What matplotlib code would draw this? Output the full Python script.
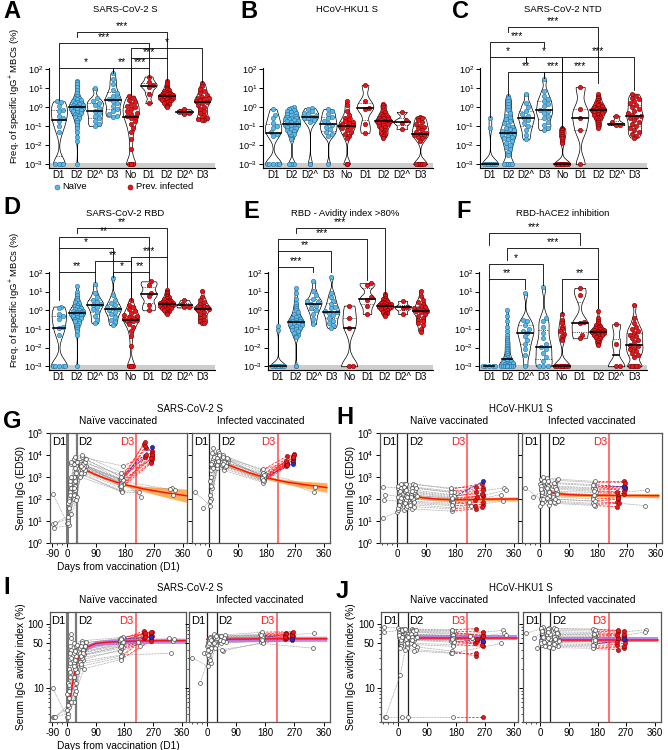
import numpy as np
import matplotlib
matplotlib.use('Agg')
import matplotlib.pyplot as plt
from matplotlib.transforms import Affine2D, blended_transform_factory
from matplotlib.ticker import NullFormatter

plt.rcParams['font.family'] = ['Liberation Sans', 'DejaVu Sans']
plt.rcParams['mathtext.fontset'] = 'custom'
plt.rcParams['mathtext.rm'] = 'Liberation Sans'
plt.rcParams['mathtext.it'] = 'Liberation Sans:italic'
plt.rcParams['mathtext.bf'] = 'Liberation Sans:bold'
plt.rcParams['xtick.labelsize'] = 7
plt.rcParams['ytick.labelsize'] = 7

# ---------------- data: memory B cell frequencies (log10 %) ----------------
categories = ['D1', 'D2', 'D2^', 'D3', 'No', 'D1', 'D2', 'D2^', 'D3']

mbc_S = [
    [0.3, 0.25, 0.05, -0.15, -0.2, -0.45, -0.6, -0.75, -1.0, -1.3, -3, -3, -3, -3],
    [1.35, 1.3, 1.2, 1.05, 0.9, 0.75, 0.6, 0.5, 0.45, 0.4, 0.35, 0.3, 0.25, 0.2, 0.2, 0.15, 0.1, 0.1, 0.05, 0.05,
     0.0, 0.0, -0.05, -0.05, -0.1, -0.1, -0.15, -0.2, -0.25, -0.3, -0.35, -0.4, -0.45, -0.5, -0.6, -0.7, -0.8,
     -0.95, -1.1, -1.3, -1.55, -1.8, -3],
    [1.0, 0.45, 0.3, 0.2, 0.1, -0.05, -0.2, -0.3, -0.45, -0.6, -0.75, -0.9, -1.0],
    [1.8, 1.45, 1.2, 0.9, 0.75, 0.6, 0.45, 0.4, 0.3, 0.2, 0.05, -0.1, -0.2, -0.35, -0.45, -0.5],
    [0.6, 0.45, 0.35, 0.25, 0.15, 0.05, 0.0, -0.1, -0.2, -0.3, -0.35, -0.45, -0.5, -0.6, -0.75, -0.9, -1.1, -1.3,
     -1.7, -2.2, -3, -3, -3, -3, -3],
    [1.6, 1.3, 1.15, 1.05, 0.7, 0.2],
    [1.35, 1.25, 1.15, 1.05, 1.0, 0.95, 0.9, 0.85, 0.8, 0.75, 0.72, 0.7, 0.68, 0.65, 0.62, 0.6, 0.6, 0.58, 0.55,
     0.52, 0.5, 0.5, 0.48, 0.45, 0.42, 0.4, 0.38, 0.35, 0.3, 0.25, 0.2, 0.15, 0.1, 0.05, 0.0],
    [-0.1, -0.2, -0.3, -0.35],
    [1.25, 1.1, 0.95, 0.85, 0.75, 0.65, 0.55, 0.5, 0.45, 0.4, 0.35, 0.3, 0.28, 0.2, 0.1, 0.0, -0.1, -0.2, -0.3,
     -0.4, -0.5, -0.6, -0.65, -0.7, -0.7],
]

mbc_HKU1 = [
    [-0.1, -0.4, -0.6, -0.85, -1.0, -1.1, -1.3, -1.4, -1.5, -3, -3, -3, -3, -3],
    [0.0, -0.05, -0.1, -0.15, -0.2, -0.25, -0.3, -0.35, -0.4, -0.45, -0.5, -0.55, -0.6, -0.62, -0.65, -0.7, -0.72,
     -0.75, -0.8, -0.85, -0.88, -0.9, -0.92, -0.95, -1.0, -1.05, -1.1, -1.15, -1.2, -1.25, -1.3, -1.4, -1.5, -1.6,
     -1.7, -3, -3, -3, -3, -3, -3],
    [-0.05, -0.1, -0.2, -0.3, -0.35, -0.45, -0.5, -0.55, -0.6, -0.7, -0.8, -3, -3],
    [-0.1, -0.2, -0.35, -0.5, -0.6, -0.75, -0.85, -0.95, -1.05, -1.15, -1.3, -1.4, -1.5, -3],
    [0.3, 0.1, -0.2, -0.4, -0.55, -0.65, -0.75, -0.8, -0.85, -0.9, -0.95, -1.0, -1.0, -1.05, -1.1, -1.2, -1.3,
     -1.4, -1.5, -1.6, -3, -3, -3, -3],
    [1.15, 0.3, -0.05, -0.1, -0.9, -1.35],
    [0.15, 0.1, 0.0, -0.15, -0.25, -0.35, -0.4, -0.45, -0.5, -0.55, -0.6, -0.65, -0.7, -0.72, -0.75, -0.75, -0.8,
     -0.85, -0.9, -0.95, -1.0, -1.05, -1.1, -1.2, -1.3, -1.35, -1.4, -1.5, -1.6],
    [-0.25, -0.7, -0.85, -1.15],
    [-0.5, -0.55, -0.6, -0.7, -0.8, -0.9, -1.0, -1.05, -1.1, -1.2, -1.3, -1.35, -1.4, -1.45, -1.5, -1.55, -1.6,
     -1.8, -3, -3, -3, -3, -3, -3, -3],
]

mbc_NTD = [
    [-0.6, -1.1, -3, -3, -3, -3, -3, -3, -3, -3],
    [0.6, 0.45, 0.3, 0.15, 0.0, -0.15, -0.3, -0.45, -0.55, -0.65, -0.75, -0.85, -0.95, -1.05, -1.1, -1.15, -1.2,
     -1.25, -1.3, -1.35, -1.4, -1.45, -1.5, -1.55, -1.6, -1.7, -1.8, -1.9, -2.0, -2.1, -2.2, -2.35, -2.5, -3, -3,
     -3, -3, -3, -3, -3],
    [0.7, 0.2, 0.0, -0.2, -0.35, -0.45, -0.55, -0.7, -0.85, -1.0, -1.2, -1.45, -1.7],
    [1.45, 0.85, 0.6, 0.4, 0.3, 0.15, 0.05, -0.15, -0.2, -0.3, -0.45, -0.6, -0.8, -0.95, -1.1, -1.2],
    [-1.1, -1.15, -1.2, -1.3, -1.4, -1.5, -1.6, -1.8, -1.9, -3, -3, -3, -3, -3, -3, -3, -3, -3, -3, -3, -3, -3],
    [1.05, -0.1, -0.55, -1.2, -3],
    [0.7, 0.55, 0.45, 0.35, 0.25, 0.2, 0.15, 0.1, 0.05, 0.0, -0.05, -0.1, -0.12, -0.15, -0.15, -0.18, -0.2, -0.25,
     -0.3, -0.35, -0.4, -0.45, -0.5, -0.55, -0.6, -0.7, -0.8, -0.9, -1.0, -1.1],
    [-0.45, -0.8, -0.95, -0.95],
    [0.7, 0.6, 0.5, 0.4, 0.3, 0.2, 0.1, 0.0, -0.1, -0.2, -0.3, -0.4, -0.45, -0.5, -0.6, -0.7, -0.8, -0.9, -1.0,
     -1.1, -1.2, -1.3, -1.4, -1.5, -1.6],
]

mbc_RBD = [
    [0.2, 0.1, -0.2, -0.3, -0.45, -0.9, -0.95, -1.3, -3, -3, -3, -3, -3],
    [1.3, 1.0, 0.8, 0.65, 0.55, 0.45, 0.4, 0.3, 0.25, 0.2, 0.15, 0.1, 0.05, 0.0, -0.02, -0.05, -0.08, -0.1, -0.12,
     -0.15, -0.15, -0.18, -0.2, -0.25, -0.3, -0.35, -0.4, -0.45, -0.5, -0.55, -0.6, -0.7, -0.8, -0.9, -1.0, -1.1,
     -1.3, -3],
    [1.4, 0.95, 0.7, 0.55, 0.45, 0.35, 0.3, 0.2, 0.05, -0.1, -0.3, -0.5, -0.7],
    [1.75, 0.8, 0.55, 0.4, 0.3, 0.2, 0.1, 0.05, 0.0, -0.1, -0.2, -0.35, -0.5, -0.65, -0.8],
    [0.55, 0.3, 0.15, 0.05, -0.05, -0.15, -0.25, -0.3, -0.35, -0.4, -0.45, -0.5, -0.5, -0.55, -0.6, -0.75, -0.9,
     -1.1, -1.4, -1.9, -3, -3, -3, -3, -3],
    [1.55, 1.35, 0.95, 0.75, 0.3, 0.0],
    [1.1, 1.0, 0.9, 0.8, 0.75, 0.7, 0.65, 0.6, 0.55, 0.5, 0.48, 0.45, 0.42, 0.4, 0.38, 0.36, 0.35, 0.35, 0.33, 0.3,
     0.28, 0.25, 0.22, 0.2, 0.18, 0.15, 0.12, 0.1, 0.05, 0.0, -0.05, -0.1, -0.15, -0.2],
    [0.55, 0.35, 0.2, 0.15],
    [1.05, 0.7, 0.55, 0.45, 0.35, 0.25, 0.2, 0.15, 0.1, 0.08, 0.05, 0.0, -0.1, -0.2, -0.3, -0.4, -0.5, -0.6, -0.7,
     -0.7],
]

mbc_avidity = [
    [-0.85, -1.05, -3, -3, -3, -3, -3, -3, -3, -3, -3, -3, -3, -3],
    [1.2, 0.9, 0.6, 0.4, 0.25, 0.1, 0.0, -0.1, -0.2, -0.3, -0.35, -0.4, -0.45, -0.5, -0.55, -0.6, -0.62, -0.65,
     -0.65, -0.68, -0.7, -0.75, -0.8, -0.85, -0.9, -0.95, -1.0, -1.05, -1.1, -1.2, -1.3, -1.4, -1.45, -3, -3],
    [1.55, 1.05, 0.8, 0.6, 0.5, 0.45, 0.35, 0.25, 0.1, 0.0, -0.2, -0.45, -0.75],
    [1.8, 0.95, 0.7, 0.5, 0.35, 0.2, 0.1, -0.05, -0.1, -0.15, -0.25, -0.4, -0.55, -0.7, -0.8, -0.95],
    [0.25, -0.4, -0.95, -3, -3],
    [1.45, 1.35, 0.7, 0.55, 0.25, -0.2],
    [0.85, 0.75, 0.65, 0.6, 0.55, 0.5, 0.45, 0.4, 0.38, 0.35, 0.32, 0.3, 0.28, 0.26, 0.25, 0.25, 0.22, 0.2, 0.18,
     0.15, 0.12, 0.1, 0.05, 0.0, -0.05, -0.1, -0.15, -0.2, -0.25, -0.3],
    [0.5, 0.2, 0.1, -0.2],
    [1.05, 0.75, 0.55, 0.45, 0.35, 0.25, 0.2, 0.1, 0.05, 0.0, -0.05, -0.05, -0.1, -0.2, -0.3, -0.4, -0.5, -0.6,
     -0.7, -0.8, -1.0, -1.15],
]

mbc_ace2 = [
    [-3, -3, -3, -3, -3],
    [0.0, -0.3, -0.6, -0.9, -1.1, -1.3, -1.5, -1.6, -1.7, -1.8, -1.9, -2.0, -2.1, -2.2, -2.3, -2.4, -2.5, -2.55,
     -2.6, -2.65, -2.7, -2.75, -2.8, -2.85, -2.9, -2.9, -2.95, -3, -3, -3, -3, -3, -3, -3, -3, -3, -3, -3],
    [0.95, -0.5, -0.6, -0.8, -1.0, -1.1, -1.2, -1.4, -1.6, -1.8, -2.1, -2.4, -3],
    [1.25, -0.4, -0.6, -0.9, -1.2, -1.5, -1.8, -1.95, -2.1, -2.3, -2.5, -2.7, -3, -3, -3],
    [-0.2, -0.5, -0.7, -0.9, -1.0, -1.1, -1.25, -1.4, -1.55, -1.6, -3, -3, -3, -3, -3, -3, -3, -3, -3, -3, -3, -3],
    [1.2, 0.8, -0.65, -0.7, -1.3, -1.5],
    [-0.05, -0.4, -0.55, -0.7, -0.8, -0.85, -0.9, -0.95, -1.0, -1.05, -1.08, -1.1, -1.12, -1.15, -1.15, -1.18, -1.2,
     -1.25, -1.3, -1.35, -1.4, -1.45, -1.5, -1.6, -1.7, -1.8, -1.85],
    [-0.75, -1.8, -3, -3],
    [0.3, -0.4, -0.7, -0.9, -1.0, -1.1, -1.2, -1.3, -1.4, -1.5, -1.6, -1.7, -1.85, -1.9, -2.0, -2.1, -2.2, -2.3,
     -2.4, -2.5, -3, -3, -3, -3, -3],
]

# ---------------- data: serum time courses ----------------
# columns: pre, early, D2, post-D2, 6 months, post-D3, late (no D3)
naive_days = [
    [-88, 1, 22, 45, 168, 242, None], [-84, 4, 25, 50, 170, 263, None], [-78, 7, 28, 42, 165, 240, None],
    [-72, 12, 30, 55, 172, 265, None], [None, 2, 21, 48, 167, 262, None], [None, 5, 24, 52, 169, 244, None],
    [None, 8, 27, 40, 171, 264, None], [None, 10, 29, 58, 166, 241, None], [None, 13, 23, 46, 174, 263, None],
    [None, 3, 26, 53, 168, 262, None], [None, 6, 31, 44, 170, 245, None], [None, 9, 22, 50, 173, 265, None],
    [None, 11, 28, 56, 165, 243, None], [None, 14, 25, 47, 169, 264, None], [None, 2, 30, 41, 171, None, 325],
    [None, 6, 24, 54, 167, None, 330], [None, 9, 27, 49, 172, None, 335], [None, 12, 21, 57, 166, None, 228],
    [None, 4, 29, 43, 170, None, 222], [None, 7, 23, 51, 168, None, 320], [None, 10, 26, 45, 174, 262, None],
    [None, 13, 32, 60, 169, 264, None],
]
infected_days = [
    [-92, 3, 25, 45, 168, 243, None], [-41, 6, 28, 52, 171, 263, None], [-20, 9, 22, 40, 166, 265, None],
    [None, 1, 30, 48, 173, 240, None], [None, 4, 24, 55, 169, 262, None], [None, 7, 27, 42, 165, 244, None],
    [None, 10, 21, 50, 172, 264, None], [None, 13, 29, 58, 167, 241, None], [None, 2, 23, 46, 170, 263, None],
    [None, 5, 26, 53, 174, 262, None], [None, 8, 31, 44, 168, 245, None], [None, 11, 22, 57, 171, 265, None],
    [None, 14, 28, 41, 166, 243, None], [None, 3, 25, 49, 173, 264, None], [None, 6, 30, 54, 169, None, 332],
    [None, 9, 24, 47, 172, None, 328], [None, 12, 27, 43, 167, 262, None], [None, 4, 23, 51, 170, 240, None],
]
naive_blue = [21]
infected_blue = [16]

# log10 ED50, SARS-CoV-2 S
igg_S_naive = [
    [2.25, 0.9, 2.0, 3.1, 2.4, 3.9, None], [0.85, 1.1, 2.9, 3.5, 2.7, 4.0, None],
    [0.7, 0.8, 3.5, 3.6, 2.9, 4.5, None], [0.9, 1.3, 3.7, 3.8, 3.0, 4.2, None],
    [None, 1.8, 2.2, 3.3, 2.6, 3.7, None], [None, 2.1, 2.6, 3.4, 2.8, 4.3, None],
    [None, 2.4, 3.3, 3.7, 3.1, 3.8, None], [None, 2.6, 3.6, 3.5, 2.75, 4.6, None],
    [None, 3.6, 3.8, 3.9, 3.5, 4.1, None], [None, 1.0, 2.4, 3.2, 2.5, 3.65, None],
    [None, 2.0, 3.4, 3.6, 2.9, 4.0, None], [None, 2.3, 3.0, 3.4, 2.7, 3.9, None],
    [None, 2.7, 3.5, 3.3, 2.6, 4.4, None], [None, 3.0, 3.9, 4.0, 3.2, 4.0, None],
    [None, 1.2, 2.1, 3.0, 2.35, None, 2.5], [None, 1.9, 2.8, 3.5, 2.7, None, 2.2],
    [None, 2.2, 3.2, 3.6, 2.8, None, 2.4], [None, 2.5, 3.6, 3.7, 2.9, None, 2.1],
    [None, 0.9, 1.95, 3.2, 2.3, None, 2.3], [None, 1.6, 2.5, 3.4, 2.6, None, 2.45],
    [None, 2.8, 3.4, 3.5, 2.85, 3.85, None], [None, 3.7, 3.7, 3.8, 3.0, 4.35, None],
]
igg_S_infected = [
    [2.3, 1.7, 3.5, 3.4, 2.8, 3.6, None], [1.6, 2.0, 3.8, 3.6, 2.95, 3.9, None],
    [None, 2.5, 3.9, 3.7, 3.1, 4.05, None], [None, 1.9, 3.6, 3.5, 2.9, 3.5, None],
    [None, 3.0, 4.0, 3.8, 3.05, 3.75, None], [None, 3.5, 4.2, 4.0, 3.3, 3.95, None],
    [None, 3.8, 3.7, 3.6, 2.85, 3.8, None], [None, 4.0, 3.9, 3.75, 3.0, 3.6, None],
    [None, 2.2, 3.4, 3.3, 2.75, 3.7, None], [None, 3.3, 3.8, 3.65, 3.15, 3.85, None],
    [None, 3.7, 4.1, 3.9, 3.35, 3.65, None], [None, 4.3, 3.95, 3.8, 3.0, 4.0, None],
    [None, 3.9, 3.7, 3.55, 2.9, 3.55, None], [None, 2.8, 3.6, 3.45, 2.8, 3.9, None],
    [None, 3.6, 4.0, 3.85, 3.2, None, 2.55], [None, 4.1, 3.85, 3.7, 3.1, None, 2.3],
    [None, 3.4, 3.75, 3.6, 2.95, 3.6, None], [None, 2.6, 3.55, 3.5, 2.85, 3.75, None],
]
# log10 ED50, HCoV-HKU1 S
igg_H_naive = [
    [1.15, 1.4, 1.5, 1.55, 1.45, 1.55, None], [2.55, 2.5, 2.6, 2.55, 2.35, 2.5, None],
    [1.95, 1.9, 2.0, 2.05, 1.9, 1.7, None], [2.2, 2.1, 2.2, 2.25, 2.05, 2.15, None],
    [None, 2.6, 2.7, 2.7, 2.45, 2.7, None], [None, 2.3, 2.3, 2.3, 2.1, 2.3, None],
    [None, 1.7, 1.75, 1.8, 1.7, 1.75, None], [None, 2.0, 2.1, 2.1, 1.95, 1.95, None],
    [None, 2.4, 2.45, 2.5, 2.3, 2.4, None], [None, 1.5, 1.6, 1.65, 1.55, 1.65, None],
    [None, 2.2, 2.25, 2.2, 2.0, 2.1, None], [None, 1.8, 1.85, 1.9, 1.8, 1.85, None],
    [None, 2.7, 2.7, 2.65, 2.5, 2.55, None], [None, 2.0, 2.05, 2.0, 1.9, 2.2, None],
    [None, 1.6, 1.7, 1.75, 1.6, None, 1.9], [None, 2.3, 2.35, 2.4, 2.2, None, 2.5],
    [None, 1.9, 1.95, 2.0, 1.85, None, 2.4], [None, 2.5, 2.55, 2.5, 2.3, None, 1.7],
    [None, 2.1, 2.15, 2.1, 2.0, None, 1.85], [None, 1.75, 1.8, 1.85, 1.75, None, 2.2],
    [None, 2.35, 2.4, 2.35, 2.15, 2.25, None], [None, 2.05, 2.1, 2.15, 2.05, 2.8, None],
]
igg_H_infected = [
    [2.5, 2.0, 2.05, 2.0, 1.9, 2.0, None], [2.1, 2.3, 2.35, 2.3, 2.2, 2.25, None],
    [None, 2.6, 2.65, 2.6, 2.5, 2.55, None], [None, 1.7, 1.75, 1.8, 1.7, 1.65, None],
    [None, 2.9, 2.9, 2.85, 2.75, 2.8, None], [None, 2.2, 2.25, 2.2, 2.1, 2.15, None],
    [None, 2.5, 2.55, 2.5, 2.4, 2.45, None], [None, 1.9, 1.95, 1.9, 1.8, 1.85, None],
    [None, 2.7, 2.75, 2.7, 2.6, 2.6, None], [None, 2.4, 2.4, 2.35, 2.3, 2.35, None],
    [None, 1.8, 1.85, 1.85, 1.75, 1.8, None], [None, 3.0, 2.95, 2.9, 2.8, 2.75, None],
    [None, 2.1, 2.15, 2.1, 2.0, 2.05, None], [None, 2.6, 2.6, 2.55, 2.45, 2.5, None],
    [None, 2.3, 2.3, 2.25, 2.2, None, 2.4], [None, 2.0, 2.05, 2.0, 1.9, None, 1.7],
    [None, 2.8, 2.8, 2.75, 2.65, 2.55, None], [None, 2.45, 2.5, 2.45, 2.35, 2.3, None],
]
# avidity index %, SARS-CoV-2 S
avid_S_naive = [
    [10, 3.5, 6, 22, 30, 60, None], [3.5, 4, 10, 28, 40, 65, None], [3.5, 5, 20, 35, 50, 72, None],
    [3.5, 6, 28, 40, 55, 75, None], [None, 8, 15, 30, 38, 58, None], [None, 12, 22, 33, 45, 68, None],
    [None, 20, 30, 42, 52, 70, None], [None, 45, 45, 48, 58, 78, None], [None, 70, 50, 55, 62, 74, None],
    [None, 3.5, 8, 20, 28, 55, None], [None, 7, 18, 32, 42, 62, None], [None, 15, 25, 38, 48, 66, None],
    [None, 25, 32, 44, 54, 72, None], [None, 40, 40, 50, 60, 76, None], [None, 4.5, 12, 26, 33, None, 35],
    [None, 9, 20, 34, 44, None, 55], [None, 18, 28, 40, 50, None, 58], [None, 30, 35, 45, 56, None, 45],
    [None, 5.5, 9, 24, 32, None, 52], [None, 11, 22, 36, 46, None, 60], [None, 35, 38, 46, 53, 64, None],
    [None, 60, 48, 52, 59, 62, None],
]
avid_S_infected = [
    [30, 22, 45, 50, 55, 60, None], [12, 30, 50, 55, 58, 63, None], [35, 38, 55, 58, 60, 66, None],
    [None, 45, 58, 60, 62, 68, None], [None, 52, 62, 62, 65, 70, None], [None, 58, 68, 65, 70, 74, None],
    [None, 63, 65, 63, 68, 72, None], [None, 25, 48, 52, 53, 58, None], [None, 35, 52, 56, 57, 62, None],
    [None, 48, 60, 60, 63, 67, None], [None, 55, 63, 64, 66, 69, None], [None, 60, 70, 68, 75, 76, None],
    [None, 42, 57, 57, 59, 61, None], [None, 33, 42, 38, 52, 56, None], [None, 50, 61, 61, 64, None, 72],
    [None, 28, 53, 40, 50, None, 42], [None, 56, 66, 66, 67, 58, None], [None, 40, 50, 54, 56, 64, None],
]
# avidity index %, HCoV-HKU1 S
avid_H_naive = [
    [90, 88, 85, 84, 82, 85, None], [75, 80, 78, 76, 72, 68, None], [3.5, 16, 55, 58, 55, 50, None],
    [3.5, 3.5, 3.5, None, 3.5, 3.5, None], [None, 70, 72, 70, 66, 62, None], [None, 62, 60, 61, 58, 55, None],
    [None, 55, 52, 50, 48, 45, None], [None, 48, 46, 44, 38, 32, None], [None, 85, 82, 80, 78, 75, None],
    [None, 75, 76, 74, 70, 60, None], [None, 66, 68, 65, 62, 58, None], [None, 58, 56, 57, 54, 52, None],
    [None, 45, 42, 40, 36, 36, None], [None, 78, 80, 78, 75, 65, None], [None, 72, 70, 69, 67, None, 80],
    [None, 60, 62, 60, 57, None, 72], [None, 52, 50, 48, 45, None, 68], [None, 82, 84, 82, 80, None, 60],
    [None, 68, 66, 64, 60, None, 65], [None, 42, 40, 38, 35, None, 50], [None, 57, 58, 56, 52, 48, None],
    [None, 64, 63, 62, 58, 55, None],
]
avid_H_infected = [
    [72, 85, 82, 80, 78, 75, None], [60, 75, 72, 70, 68, 65, None], [42, 65, 62, 60, 58, 56, None],
    [None, 55, 53, 52, 50, 48, None], [None, 48, 46, 45, 44, 42, None], [None, 90, 88, 86, 84, 80, None],
    [None, 70, 68, 66, 64, 62, None], [None, 60, 58, 56, 54, 52, None], [None, 50, 48, 47, 46, 45, None],
    [None, 80, 78, 76, 74, 70, None], [None, 68, 66, 64, 62, 60, None], [None, 58, 56, 55, 53, 50, None],
    [None, 45, 44, 43, 42, 40, None], [None, 88, 85, 84, 82, 78, None], [None, 72, 70, 69, 67, None, 82],
    [None, 62, 60, 58, 56, None, 75], [None, 52, 50, 49, 48, 58, None], [None, 78, 75, 73, 71, 68, None],
]

# model fits
fit_days_igg = [30, 45, 60, 90, 120, 150, 180, 240, 300, 370]
fit_S_naive = [3.55, 3.42, 3.3, 3.1, 2.93, 2.78, 2.65, 2.45, 2.3, 2.15]
band_S_naive = [0.08, 0.07, 0.06, 0.05, 0.05, 0.06, 0.07, 0.12, 0.2, 0.3]
fit_S_infected = [3.78, 3.65, 3.55, 3.38, 3.22, 3.08, 2.96, 2.78, 2.65, 2.52]
band_S_infected = [0.1, 0.08, 0.07, 0.06, 0.06, 0.06, 0.07, 0.1, 0.15, 0.22]
fit_H_naive = [2.22, 2.15, 2.1, 2.04, 2.0, 1.98, 1.97, 1.98, 2.0, 2.0]
band_H_naive = [0.12, 0.1, 0.08, 0.07, 0.06, 0.06, 0.06, 0.07, 0.08, 0.1]
fit_H_infected = [2.3, 2.27, 2.24, 2.2, 2.18, 2.17, 2.17, 2.16, 2.16, 2.15]
band_H_infected = [0.15, 0.12, 0.1, 0.08, 0.07, 0.07, 0.07, 0.07, 0.08, 0.1]

fit_days_avid = [0, 10, 20, 30, 45, 60, 90, 120, 180, 270, 370]
fit_avS_naive = [3.3, 6.5, 14, 25, 36, 43, 50, 52, 54, 55, 55]
fit_avS_infected = [58, 58, 58, 58, 58, 58, 58.5, 58.5, 59, 59, 59]
fit_avH_naive = [61, 61, 61, 61, 61, 61, 61, 61, 61, 61, 61]
fit_avH_infected = [57, 57, 57, 57, 57, 57, 57, 57, 57, 57, 57]
band_avid = [0.04, 0.04, 0.04, 0.04, 0.04, 0.04, 0.04, 0.04, 0.04, 0.04, 0.04]

D2_DAY = 30
D3_DAY = 215

# ---------------- drawing ----------------
W, H = 668, 750
fig = plt.figure(figsize=(6.68, 7.5), dpi=100)
PX = Affine2D().scale(1 / W, -1 / H).translate(0, 1) + fig.transFigure

BLUE, BLUE_E = '#5bb8e8', '#2c6f96'
RED, RED_E = '#e8161c', '#7a0000'


def px_axes(x0, y0, x1, y1):
    return fig.add_axes([x0 / W, 1 - y1 / H, (x1 - x0) / W, (y1 - y0) / H])


def ftext(x, y, s, **kw):
    fig.text(x / W, 1 - y / H, s, **kw)


def swarm(v, grid, hw, xpx=18.3, ypx=19.0, d=4.2):
    offs = np.zeros(len(v))
    placed = []
    for k in np.argsort(v):
        y = v[k] * ypx
        lim = max(np.interp(v[k], grid, hw) * xpx - d * 0.3, 0)
        cands = [0.0]
        n = 1
        while n * d * 0.5 <= lim:
            cands += [n * d * 0.5, -n * d * 0.5]
            n += 1
        best, best_gap = 0.0, -1
        for c in cands:
            gap = min((np.hypot(c - a, y - b) for a, b in placed), default=1e9)
            if gap >= d:
                best = c
                break
            if gap > best_gap:
                best, best_gap = c, gap
        offs[k] = best / xpx
        placed.append((best, y))
    return offs


def violins(ax, groups):
    for i, g in enumerate(groups):
        v = np.array(g, float)
        face, edge = (BLUE, BLUE_E) if i < 4 else (RED, RED_E)
        lo, hi = v.min(), v.max()
        med = np.median(v)
        q1, q3 = np.percentile(v, [25, 75])
        if hi - lo > 1e-9:
            grid = np.linspace(lo, hi, 150)
            bw = np.clip(0.5 * v.std() * len(v) ** -0.2, 0.12, 0.4)
            dens = np.exp(-0.5 * ((grid[:, None] - v[None, :]) / bw) ** 2).sum(1)
            hw = 0.45 * dens / dens.max()
            ax.fill_betweenx(10 ** grid, i - hw, i + hw, facecolor='white', edgecolor='black', lw=0.5, zorder=1)
            for q in (q1, q3):
                w = np.interp(q, grid, hw)
                ax.plot([i - w, i + w], [10 ** q] * 2, color='black', ls=':', lw=0.6, zorder=1.5)
            w = np.interp(med, grid, hw)
        else:
            grid, hw, w = np.array([lo]), np.array([0.45]), 0.3
        ax.plot([i - w, i + w], [10 ** med] * 2, color='black', lw=1.2, zorder=3)
        offs = swarm(v, grid, hw)
        ax.scatter(i + offs, 10 ** v, s=10, c=face, edgecolors=edge, linewidths=0.4, zorder=2)
    ax.set_yscale('log')
    ax.set_ylim(10 ** -3.2, 10 ** 2.05)
    ax.set_yticks([1e-3, 1e-2, 1e-1, 1e0, 1e1, 1e2])
    ax.yaxis.set_minor_formatter(NullFormatter())
    ax.axhspan(10 ** -3.2, 10 ** -2.93, color='#cdcdcd', lw=0, zorder=0)
    ax.set_xlim(-0.55, 8.7)
    ax.set_xticks(range(9))
    ax.set_xticklabels(categories, fontsize=7)
    ax.tick_params(axis='x', length=0, pad=1.5)
    ax.tick_params(axis='y', which='major', length=3, width=0.7, pad=1, labelsize=6.6)
    ax.tick_params(axis='y', which='minor', length=1.5, width=0.5)
    for s in ['top', 'right']:
        ax.spines[s].set_visible(False)
    ax.spines['left'].set_linewidth(0.8)
    ax.spines['bottom'].set_linewidth(0.8)


def brackets(ax, specs):
    tr = blended_transform_factory(ax.transData, PX)
    for i1, i2, yb, e1, e2, lab in specs:
        ax.plot([i1, i1, i2, i2], [e1, yb, yb, e2], color='black', lw=0.6, transform=tr, clip_on=False)
        ax.text((i1 + i2) / 2, yb - 1.0, lab, transform=tr, ha='center', va='bottom', fontsize=7.5)


def fwd(x):
    return np.where(np.asarray(x) < 0, np.asarray(x) / 2.0, x)


def inv(x):
    return np.where(np.asarray(x) < 0, np.asarray(x) * 2.0, x)


def course(ax, days, vals, blue, logv, fit_d, fit_v, fit_b, band_col, left, heavy, show_m90):
    conv = (lambda x: 10 ** x) if logv else (lambda x: x)
    grey = '#8f8f8f'
    for s in range(len(days)):
        pts = []
        for c in range(7):
            if days[s][c] is None or vals[s][c] is None:
                pts.append(None)
            else:
                pts.append((days[s][c], conv(vals[s][c])))
        main = [p for c, p in enumerate(pts) if p is not None and c <= 4]
        if len(main) > 1:
            ax.plot([p[0] for p in main], [p[1] for p in main], color=grey, lw=0.5, ls=(0, (1.2, 1)), zorder=1)
        m6 = pts[4]
        if m6 is not None and pts[6] is not None:
            ax.plot([m6[0], pts[6][0]], [m6[1], pts[6][1]], color=grey, lw=0.5, ls=(0, (1.2, 1)), zorder=1)
        if m6 is not None and pts[5] is not None:
            col = '#2030d0' if s in blue else '#ff2a2a'
            ax.plot([m6[0], pts[5][0]], [m6[1], pts[5][1]], color=col, lw=0.6, ls=(0, (3, 1.5)), zorder=2)
        for c, p in enumerate(pts):
            if p is None:
                continue
            if c == 5:
                fc = '#2030d0' if s in blue else RED
                ec = '#101060' if s in blue else RED_E
                ax.plot(p[0], p[1], 'o', ms=3.0, mfc=fc, mec=ec, mew=0.4, zorder=4)
            else:
                ax.plot(p[0], p[1], 'o', ms=2.8, mfc='white', mec='#4a4a4a', mew=0.5, zorder=3)
    fd = np.array(fit_d, float)
    fv = np.array(fit_v, float)
    fb = np.array(fit_b, float)
    if logv:
        ax.fill_between(fd, 10 ** (fv - fb), 10 ** (fv + fb), color=band_col, lw=0, alpha=0.85, zorder=2.5)
        ax.plot(fd, 10 ** fv, color='#ff1010', lw=1.1, zorder=2.6)
    else:
        ax.fill_between(fd, fv * 10 ** -fb, fv * 10 ** fb, color=band_col, lw=0, alpha=0.8, zorder=2.5)
        ax.plot(fd, fv, color='#ff1010', lw=1.1, zorder=2.6)

    ax.set_xscale('function', functions=(fwd, inv))
    if left:
        ax.set_xlim(-105, 372)
    else:
        ax.set_xlim(-110, 380)
    if show_m90:
        ax.set_xticks([-90, 0, 90, 180, 270, 360])
        ax.set_xticks([-60, -30], minor=True)
    else:
        ax.set_xticks([0, 90, 180, 270, 360])
        ax.set_xticks([-90, -60, -30], minor=True)
    ax.set_xticklabels([str(t) for t in ax.get_xticks()])
    if heavy:
        ax.axvline(0, color='#7a7a7a', lw=2.2, zorder=0.5)
        ax.axvline(D2_DAY, color='#7a7a7a', lw=1.6, zorder=0.5)
    else:
        ax.axvline(0, color='#222222', lw=0.9, zorder=0.5)
        ax.axvline(D2_DAY, color='#222222', lw=0.9, zorder=0.5)
    ax.axvline(D3_DAY, color='#ff4a4a', lw=1.1, zorder=0.5)
    ax.set_yscale('log')
    if logv:
        ax.set_ylim(1, 1e5)
        ax.set_yticks([1, 10, 100, 1e3, 1e4, 1e5])
    else:
        ax.set_ylim(2.95, 155)
        ax.set_yticks([10, 50, 100])
        ax.set_yticklabels(['10', '50', '100'])
    ax.yaxis.set_minor_formatter(NullFormatter())
    if not left:
        ax.tick_params(axis='y', labelleft=False)
    ax.tick_params(which='major', length=3, width=0.7, pad=1.5)
    ax.tick_params(which='minor', length=1.6, width=0.5)
    for s in ax.spines.values():
        s.set_linewidth(0.9)
        s.set_color('#555555')
    trx = blended_transform_factory(ax.transData, ax.transAxes)
    ax.text(-6, 0.96, 'D1', transform=trx, ha='right', va='top', fontsize=8)
    ax.text(D2_DAY + 6, 0.96, 'D2', transform=trx, ha='left', va='top', fontsize=8)
    ax.text(D3_DAY - 6, 0.96, 'D3', transform=trx, ha='right', va='top', fontsize=8, color='#ff1a1a')


# ---- panels A-F ----
violin_panels = [
    ('A', mbc_S, 'SARS-CoV-2 S', (49, 68, 215, 168), 3, 12, 125, 10, True),
    ('B', mbc_HKU1, 'HCoV-HKU1 S', (263, 68, 433, 168), 240, 12, 347, 10, False),
    ('C', mbc_NTD, 'SARS-CoV-2 NTD', (480, 68, 647, 168), 452, 12, 563, 10, False),
    ('D', mbc_RBD, 'SARS-CoV-2 RBD', (49, 272, 215, 370), 3, 208, 125, 213, True),
    ('E', mbc_avidity, 'RBD - Avidity index >80%', (268, 272, 433, 370), 243, 211, 345, 213, False),
    ('F', mbc_ace2, 'RBD-hACE2 inhibition', (479, 272, 647, 370), 456, 212, 563, 213, False),
]
bracket_specs = {
    'A': [(1, 6, 32, 37, 58, '***'), (0, 5, 43, 68, 68, '***'), (4, 8, 48, 58, 82, '*'),
          (4, 6, 58, 68, 80, '***'), (0, 3, 68, 100, 73, '*'), (3, 4, 68, 73, 95, '**'),
          (4, 5, 68, 95, 77, '***')],
    'B': [],
    'C': [(1, 6, 27, 32, 72, '***'), (0, 3, 42, 57, 47, '***'), (0, 2, 57, 117, 62, '*'),
          (2, 4, 57, 62, 72, '*'), (4, 8, 57, 72, 90, '***'), (1, 3, 72, 95, 78, '**'),
          (3, 4, 72, 78, 127, '***'), (4, 6, 72, 127, 83, '***')],
    'D': [(1, 6, 228, 233, 257, '**'), (0, 5, 237, 248, 272, '**'), (0, 3, 248, 272, 277, '*'),
          (2, 4, 261, 272, 266, '**'), (4, 6, 257, 272, 287, '***'), (0, 2, 272, 300, 282, '**'),
          (3, 4, 272, 277, 300, '*'), (4, 5, 272, 300, 280, '**')],
    'E': [(1, 6, 228, 233, 293, '***'), (0, 5, 239, 323, 280, '***'), (0, 3, 251, 323, 272, '**'),
          (0, 2, 267, 323, 272, '***')],
    'F': [(0, 5, 233, 245, 245, '***'), (1, 6, 248, 260, 308, '***'), (0, 3, 264, 280, 285, '*'),
          (0, 2, 279, 362, 289, '**'), (4, 6, 279, 313, 308, '**')],
}

for letter, groups, title, box, lx, ly, tx, ty, ylab in violin_panels:
    ax = px_axes(*box)
    violins(ax, groups)
    brackets(ax, bracket_specs[letter])
    ftext(lx, ly, letter, fontsize=17, fontweight='bold', ha='left', va='center')
    ftext(tx, ty, title, fontsize=6.8, ha='center', va='center')
    if ylab:
        ftext(15, box[1] + 28, 'Freq. of specific IgG$^{+}$ MBCs (%)', fontsize=6.8, rotation=90,
              ha='center', va='center')

# legend under panel A
leg_ax = fig.axes[0]
leg_ax.plot([57], [186.5], 'o', ms=3.6, mfc=BLUE, mec=BLUE_E, mew=0.4, transform=PX, clip_on=False)
ftext(62, 186.5, 'Naïve', fontsize=6.8, ha='left', va='center')
leg_ax.plot([130], [186.5], 'o', ms=3.6, mfc=RED, mec=RED_E, mew=0.4, transform=PX, clip_on=False)
ftext(136, 186.5, 'Prev. infected', fontsize=6.8, ha='left', va='center')

# ---- panels G-J ----
course_panels = [
    ('G', 'SARS-CoV-2 S', [(50, 433, 187, 543), (192, 433, 330, 543)], True,
     (igg_S_naive, fit_S_naive, band_S_naive), (igg_S_infected, fit_S_infected, band_S_infected),
     'Serum IgG (ED50)', 3, 421, 21, True),
    ('H', 'HCoV-HKU1 S', [(380, 433, 518, 543), (522, 433, 662, 543)], True,
     (igg_H_naive, fit_H_naive, band_H_naive), (igg_H_infected, fit_H_infected, band_H_infected),
     'Serum IgG (ED50)', 336, 418, 351, False),
    ('I', 'SARS-CoV-2 S', [(50, 612, 186, 722), (189, 612, 330, 722)], False,
     (avid_S_naive, fit_avS_naive, band_avid), (avid_S_infected, fit_avS_infected, band_avid),
     'Serum IgG avidity index (%)', 3, 588, 21, True),
    ('J', 'HCoV-HKU1 S', [(381, 612, 518, 722), (523, 612, 661, 722)], False,
     (avid_H_naive, fit_avH_naive, band_avid), (avid_H_infected, fit_avH_infected, band_avid),
     'Serum IgG avidity index (%)', 336, 591, 351, False),
]

for letter, title, boxes, logv, nv, iv, ylab, lx, ly, ylx, first in course_panels:
    band_col = '#f9a23c' if logv else '#b06ae6'
    ax1 = px_axes(*boxes[0])
    course(ax1, naive_days, nv[0], naive_blue, logv, fit_days_igg if logv else fit_days_avid,
           nv[1], nv[2], band_col, True, first, first)
    ax2 = px_axes(*boxes[1])
    course(ax2, infected_days, iv[0], infected_blue, logv, fit_days_igg if logv else fit_days_avid,
           iv[1], iv[2], band_col, False, False, False)
    top = boxes[0][1]
    bottom = boxes[0][3]
    cx1 = (boxes[0][0] + boxes[0][2]) / 2
    cx2 = (boxes[1][0] + boxes[1][2]) / 2
    ftext((boxes[0][0] + boxes[1][2]) / 2, top - 24, title, fontsize=7, ha='center', va='center')
    ftext(cx1, top - 12, 'Naïve vaccinated', fontsize=7.3, ha='center', va='center')
    ftext(cx2, top - 12, 'Infected vaccinated', fontsize=7.3, ha='center', va='center')
    ftext(ylx, (top + bottom) / 2, ylab, fontsize=7.3, rotation=90, ha='center', va='center')
    ftext(lx, ly, letter, fontsize=17, fontweight='bold', ha='left', va='center')
    if first:
        ftext(cx1, bottom + 24, 'Days from vaccination (D1)', fontsize=7.3, ha='center', va='center')

fig.savefig('out.png', dpi=100)
